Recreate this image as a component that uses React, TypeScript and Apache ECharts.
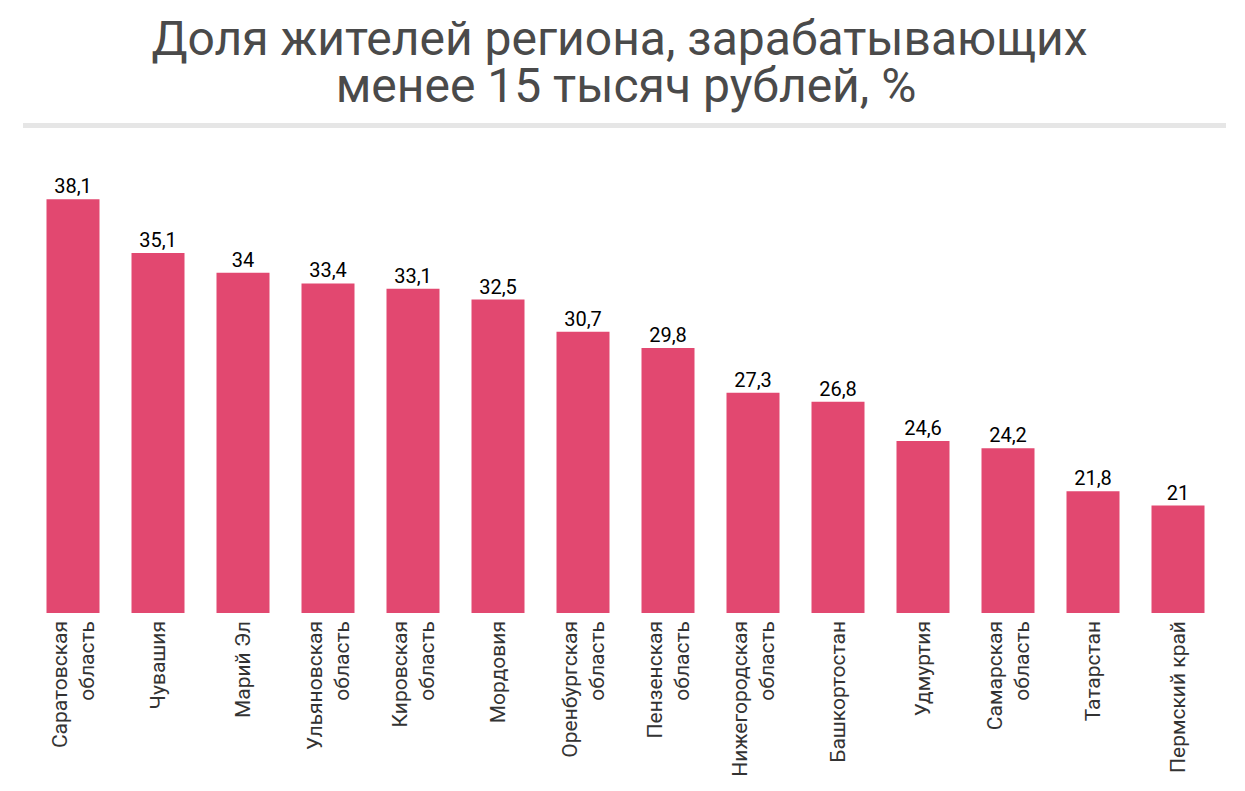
import React, { useEffect, useRef } from "react";
import * as echarts from "echarts";

const categories = [
  "Саратовская\nобласть",
  "Чувашия",
  "Марий Эл",
  "Ульяновская\nобласть",
  "Кировская\nобласть",
  "Мордовия",
  "Оренбургская\nобласть",
  "Пензенская\nобласть",
  "Нижегородская\nобласть",
  "Башкортостан",
  "Удмуртия",
  "Самарская\nобласть",
  "Татарстан",
  "Пермский край",
];
const values = [38.1, 35.1, 34, 33.4, 33.1, 32.5, 30.7, 29.8, 27.3, 26.8, 24.6, 24.2, 21.8, 21];
const titleLine1 = "Доля жителей региона, зарабатывающих";
const titleLine2 = "менее 15 тысяч рублей, %";

export default function App() {
  const ref = useRef<HTMLDivElement>(null);
  useEffect(() => {
    document.body.style.margin = "0";
    const chart = echarts.init(ref.current!, null, { renderer: "svg" });
    const titleStyle = {
      fontFamily: "Roboto",
      fontSize: 48,
      fontWeight: "normal",
      color: "#4a4a4a",
      lineHeight: 46,
    };
    chart.setOption({
      animation: false,
      backgroundColor: "#ffffff",
      title: [
        { text: titleLine1, left: 619.5, textAlign: "center", top: 15.6, padding: 0, textStyle: titleStyle },
        { text: titleLine2, left: 626, textAlign: "center", top: 62.6, padding: 0, textStyle: titleStyle },
      ],
      graphic: [
        {
          type: "rect",
          shape: { x: 23, y: 123, width: 1203, height: 5 },
          style: { fill: "#e6e6e6" },
          silent: true,
        },
      ],
      grid: { left: 30.5, right: 24.5, top: 165.3, bottom: 178 },
      xAxis: {
        type: "category",
        data: categories,
        axisLine: { show: false },
        axisTick: { show: false },
        axisLabel: {
          rotate: 90,
          interval: 0,
          margin: 8,
          fontFamily: "Roboto",
          fontSize: 21,
          color: "#333333",
          lineHeight: 27,
        },
      },
      yAxis: {
        type: "value",
        min: 15,
        max: 40,
        show: false,
        splitLine: { show: false },
      },
      series: [
        {
          type: "bar",
          data: values,
          barWidth: 53,
          itemStyle: { color: "#e24870" },
          label: {
            show: true,
            position: "top",
            distance: 3,
            fontFamily: "Roboto",
            fontSize: 20,
            color: "#000000",
            formatter: (p: any) => String(p.value).replace(".", ","),
          },
        },
      ],
    });
    return () => chart.dispose();
  }, []);
  return <div ref={ref} style={{ width: 1245, height: 791 }} />;
}
